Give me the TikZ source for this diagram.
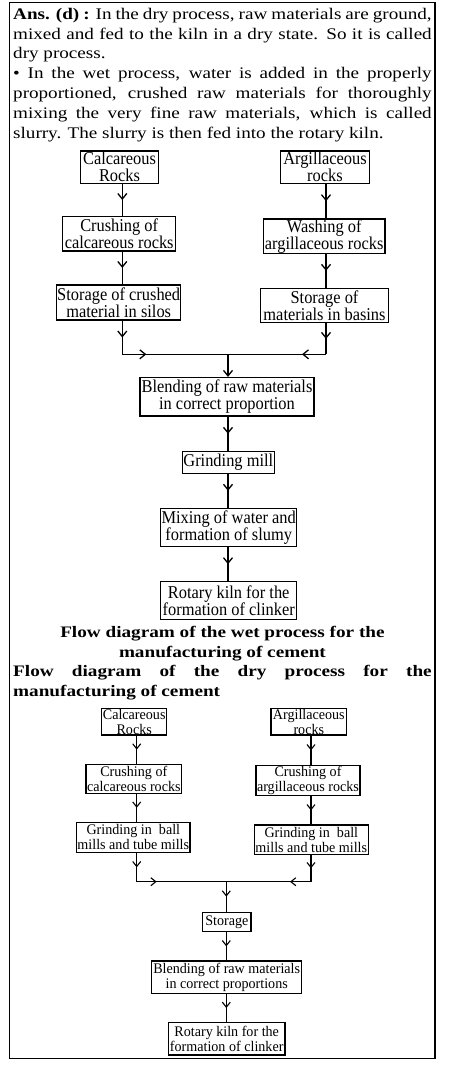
\documentclass[tikz,border=0pt]{standalone}
\usepackage{fontspec}
\setmainfont{Liberation Serif}
\usetikzlibrary{arrows.meta,decorations.markings}
\newcommand{\wtxt}[1]{\scalebox{1}[1.1]{\fontsize{16.4}{15.5}\selectfont\vbox{\halign{\hfil##\hfil\cr#1\crcr}}}}
\newcommand{\dtxt}[1]{\scalebox{1}[1.04]{\fontsize{14.1}{14.5}\selectfont\vbox{\halign{\hfil##\hfil\cr#1\crcr}}}}
\tikzset{
  wbox/.style={draw, line width=1.5pt, inner sep=0pt, align=center},
  dbox/.style={draw, line width=1.3pt, inner sep=0pt, align=center},
  wconn/.style={line width=1.3pt},
  dconn/.style={line width=1.1pt},
  wmarr/.style={postaction={decorate,decoration={markings,mark=at position #1 with {\arrow{Straight Barb[length=5.5pt,width=9pt]}}}}},
  wmarr/.default=0.5,
  dmarr/.style={postaction={decorate,decoration={markings,mark=at position #1 with {\arrow{Straight Barb[length=5pt,width=8pt]}}}}},
  dmarr/.default=0.5,
}
\begin{document}
\begin{tikzpicture}[x=1pt,y=-1pt]
\useasboundingbox (0,0) rectangle (460,1086);
\draw[line width=1.2pt] (9.5,2.5) rectangle (435,1058.3);

% top paragraph
\node[anchor=base west, inner sep=0pt] (para) at (13,19.3) {\scalebox{1.18}[1]{\parbox[t]{354.7pt}{\fontsize{16.2}{19.85}\selectfont
\makebox[354.7pt][s]{\textbf{Ans. (d) :} In the dry process, raw materials are ground,}\\
\makebox[354.7pt][s]{mixed and fed to the kiln in a dry state. So it is called}\\
dry process.\\
\makebox[354.7pt][s]{• In the wet process, water is added in the properly}\\
\makebox[354.7pt][s]{proportioned, crushed raw materials for thoroughly}\\
\makebox[354.7pt][s]{mixing the very fine raw materials, which is called}\\
slurry. The slurry is then fed into the rotary kiln.}}};

% wet process
\coordinate (WL) at (122.3,0);
\coordinate (WR) at (326,0);
\coordinate (WC) at (228,0);
\node[wbox, minimum width=77.6pt, minimum height=32.3pt] (wc1) at (119.5,167.2) {\wtxt{Calcareous\cr Rocks}};
\node[wbox, minimum width=113pt, minimum height=34.3pt] (wc2) at (119.2,233.8) {\wtxt{Crushing of\cr calcareous rocks}};
\node[wbox, minimum width=124pt, minimum height=35pt] (wc3) at (118.7,302.5) {\wtxt{Storage of crushed\cr material in silos}};
\node[wbox, minimum width=88.6pt, minimum height=32.3pt] (wa1) at (325,167.2) {\wtxt{Argillaceous\cr rocks}};
\node[wbox, minimum width=121.7pt, minimum height=34.3pt] (wa2) at (324.2,236.2) {\wtxt{Washing of\cr argillaceous rocks}};
\node[wbox, minimum width=127.6pt, minimum height=34.4pt] (wa3) at (324.5,305.5) {\wtxt{Storage of\cr materials in basins}};
\node[wbox, minimum width=174pt, minimum height=38.3pt] (wbl) at (227,396.8) {\wtxt{Blending of raw materials\cr in correct proportion}};
\node[wbox, minimum width=92pt, minimum height=21.6pt] (wgm) at (228.3,462.5) {\wtxt{Grinding mill}};
\node[wbox, minimum width=136pt, minimum height=38.4pt] (wmx) at (228.7,527.5) {\wtxt{Mixing of water and\cr formation of slumy}};
\node[wbox, minimum width=136pt, minimum height=37.6pt] (wrk) at (228.7,600.5) {\wtxt{Rotary kiln for the\cr formation of clinker}};
\coordinate (wmL) at (122.3,354.3);
\coordinate (wmR) at (326,354.3);
\coordinate (wmC) at (228,354.3);

\draw[wconn, wmarr] (wc1.south -| WL) -- (wc2.north -| WL);
\draw[wconn, wmarr] (wc2.south -| WL) -- (wc3.north -| WL);
\draw[wconn, wmarr] (wc3.south -| WL) -- (wmL);
\draw[wconn, wmarr] (wa1.south -| WR) -- (wa2.north -| WR);
\draw[wconn, wmarr] (wa2.south -| WR) -- (wa3.north -| WR);
\draw[wconn, wmarr] (wa3.south -| WR) -- (wmR);
\draw[wconn, wmarr=24pt] (wmL) -- (wmC);
\draw[wconn, wmarr=24pt] (wmR) -- (wmC);
\draw[wconn, -{Straight Barb[length=5.5pt,width=9pt]}] (wmC) -- (wbl.north -| WC);
\draw[wconn, wmarr] (wbl.south -| WC) -- (wgm.north -| WC);
\draw[wconn, wmarr] (wgm.south -| WC) -- (wmx.north -| WC);
\draw[wconn, wmarr] (wmx.south -| WC) -- (wrk.north -| WC);

% captions
\node[anchor=base west, inner sep=0pt] (cap) at (13,637.5) {\scalebox{1.2}[1]{\parbox[t]{348.75pt}{\fontsize{16}{19.7}\selectfont\bfseries
\makebox[348.75pt][c]{Flow diagram of the wet process for the}\\
\makebox[348.75pt][c]{manufacturing of cement}\\
\makebox[348.75pt][s]{Flow diagram of the dry process for the}\\
manufacturing of cement}}};

% dry process
\coordinate (DL) at (136.7,0);
\coordinate (DR) at (311,0);
\coordinate (DC) at (226.3,0);
\node[dbox, minimum width=65pt, minimum height=26.7pt] (dc1) at (134.2,721.7) {\dtxt{Calcareous\cr Rocks}};
\node[dbox, minimum width=95.7pt, minimum height=29pt] (dc2) at (133.8,778.8) {\dtxt{Crushing of\cr calcareous rocks}};
\node[dbox, minimum width=113.3pt, minimum height=30pt] (dc3) at (133.3,837.3) {\dtxt{Grinding in~ ball\cr mills and tube mills}};
\node[dbox, minimum width=75.7pt, minimum height=26.7pt] (da1) at (308.8,721.7) {\dtxt{Argillaceous\cr rocks}};
\node[dbox, minimum width=104pt, minimum height=30pt] (da2) at (308,780.7) {\dtxt{Crushing of\cr argillaceous rocks}};
\node[dbox, minimum width=114pt, minimum height=29.3pt] (da3) at (311.3,839.7) {\dtxt{Grinding in~ ball\cr mills and tube mills}};
\node[dbox, minimum width=48.3pt, minimum height=19.4pt] (dst) at (226.8,922) {\dtxt{Storage}};
\node[dbox, minimum width=150pt, minimum height=32.3pt] (dbl) at (226.7,977.2) {\dtxt{Blending of raw materials\cr in correct proportions}};
\node[dbox, minimum width=116.7pt, minimum height=32.3pt] (drk) at (226.7,1038.8) {\dtxt{Rotary kiln for the\cr formation of clinker}};
\coordinate (dmL) at (136.7,881.7);
\coordinate (dmR) at (311,881.7);
\coordinate (dmC) at (226.3,881.7);

\draw[dconn, dmarr] (dc1.south -| DL) -- (dc2.north -| DL);
\draw[dconn, dmarr] (dc2.south -| DL) -- (dc3.north -| DL);
\draw[dconn, dmarr] (dc3.south -| DL) -- (dmL);
\draw[dconn, dmarr] (da1.south -| DR) -- (da2.north -| DR);
\draw[dconn, dmarr] (da2.south -| DR) -- (da3.north -| DR);
\draw[dconn, dmarr] (da3.south -| DR) -- (dmR);
\draw[dconn, dmarr=20pt] (dmL) -- (dmC);
\draw[dconn, dmarr=21pt] (dmR) -- (dmC);
\draw[dconn, dmarr] (dmC) -- (dst.north -| DC);
\draw[dconn, dmarr] (dst.south -| DC) -- (dbl.north -| DC);
\draw[dconn, dmarr] (dbl.south -| DC) -- (drk.north -| DC);
\end{tikzpicture}
\end{document}
